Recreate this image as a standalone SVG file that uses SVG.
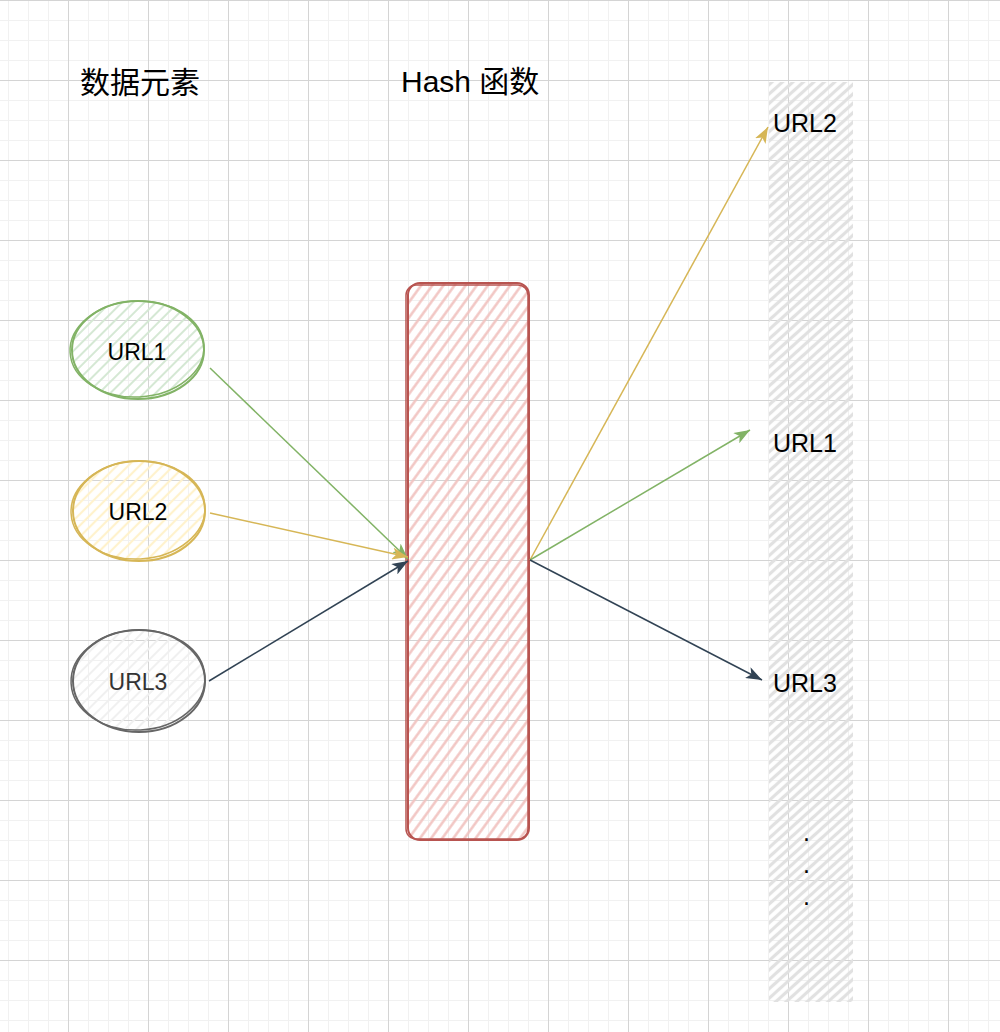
<svg xmlns="http://www.w3.org/2000/svg" width="1000" height="1032" viewBox="0 0 1000 1032">
<style>
.t{font-family:"Liberation Sans","Noto Sans CJK SC",Arial,sans-serif;fill:#000}
.title{font-size:30px}
.lbl{font-size:25px}
.in{font-size:23px;text-anchor:middle}
.edge{fill:none;stroke-width:1.5}
</style>
<defs>
<pattern id="gMinor" x="8" y="0" width="20" height="20" patternUnits="userSpaceOnUse">
<path d="M0.5 0V20M0 0.5H20" stroke="#f1f1f1" stroke-width="1" fill="none"/>
</pattern>
<pattern id="gMajor" x="68" y="0" width="80" height="80" patternUnits="userSpaceOnUse">
<path d="M0.5 0V80M0 0.5H80" stroke="#d4d4d4" stroke-width="1" fill="none"/>
</pattern>
<pattern id="hGreen" width="8" height="8" patternUnits="userSpaceOnUse" patternTransform="rotate(-45)">
<path d="M0 4H8" stroke="#d5e8d4" stroke-width="2"/>
</pattern>
<pattern id="hYellow" width="8" height="8" patternUnits="userSpaceOnUse" patternTransform="rotate(-45)">
<path d="M0 4H8" stroke="#fff2cc" stroke-width="2.2"/>
</pattern>
<pattern id="hGray" width="8" height="8" patternUnits="userSpaceOnUse" patternTransform="rotate(-45)">
<path d="M0 4H8" stroke="#f0f0f0" stroke-width="2"/>
</pattern>
<pattern id="hRed" width="9" height="9" patternUnits="userSpaceOnUse" patternTransform="rotate(-54)">
<path d="M0 4.5H9" stroke="#f1c3c0" stroke-width="2.4"/>
</pattern>
<pattern id="hCol" width="7" height="7" patternUnits="userSpaceOnUse" patternTransform="rotate(-42)">
<path d="M0 3.5H7" stroke="#e1e1e1" stroke-width="3.2"/>
</pattern>
<marker id="aGreen" viewBox="0 0 16 12" refX="16" refY="6" markerWidth="16" markerHeight="12" markerUnits="userSpaceOnUse" orient="auto">
<path d="M0 0L16 6L0 12L4 6Z" fill="#82b366"/>
</marker>
<marker id="aYellow" viewBox="0 0 16 12" refX="16" refY="6" markerWidth="16" markerHeight="12" markerUnits="userSpaceOnUse" orient="auto">
<path d="M0 0L16 6L0 12L4 6Z" fill="#d6b656"/>
</marker>
<marker id="aDark" viewBox="0 0 16 12" refX="16" refY="6" markerWidth="16" markerHeight="12" markerUnits="userSpaceOnUse" orient="auto">
<path d="M0 0L16 6L0 12L4 6Z" fill="#314354"/>
</marker>
</defs>
<g id="background">
<rect width="1000" height="1032" fill="#ffffff"/>
<rect width="1000" height="1032" fill="url(#gMinor)"/>
<rect width="1000" height="1032" fill="url(#gMajor)"/>
</g>
<g id="slots">
<rect x="769" y="82" width="84" height="78" fill="url(#hCol)"/>
<rect x="769" y="160" width="84" height="80" fill="url(#hCol)"/>
<rect x="769" y="240" width="84" height="80" fill="url(#hCol)"/>
<rect x="769" y="320" width="84" height="80" fill="url(#hCol)"/>
<rect x="769" y="400" width="84" height="80" fill="url(#hCol)"/>
<rect x="769" y="480" width="84" height="80" fill="url(#hCol)"/>
<rect x="769" y="560" width="84" height="80" fill="url(#hCol)"/>
<rect x="769" y="640" width="84" height="80" fill="url(#hCol)"/>
<rect x="769" y="720" width="84" height="80" fill="url(#hCol)"/>
<rect x="769" y="800" width="84" height="202" fill="url(#hCol)"/>
</g>
<g id="title-data"><text class="t title" x="80" y="93">数据元素</text></g>
<g id="title-hash"><text class="t title" x="401" y="92">Hash 函数</text></g>
<g id="node-url1">
<ellipse cx="138" cy="350" rx="66" ry="49" fill="url(#hGreen)"/>
<ellipse cx="138" cy="350" rx="66" ry="49" fill="none" stroke="#82b366" stroke-width="2"/>
<ellipse cx="137" cy="349" rx="67" ry="48" fill="none" stroke="#82b366" stroke-width="1.5" transform="rotate(-3 137 349)"/>
<text class="t in" x="137" y="360">URL1</text>
</g>
<g id="node-url2">
<ellipse cx="139" cy="511" rx="66" ry="50" fill="url(#hYellow)"/>
<ellipse cx="139" cy="511" rx="66" ry="50" fill="none" stroke="#d6b656" stroke-width="2"/>
<ellipse cx="138" cy="510" rx="67" ry="49" fill="none" stroke="#d6b656" stroke-width="1.5" transform="rotate(-3 138 510)"/>
<text class="t in" x="138" y="520">URL2</text>
</g>
<g id="node-url3">
<ellipse cx="139" cy="681" rx="66" ry="51" fill="url(#hGray)"/>
<ellipse cx="139" cy="681" rx="66" ry="51" fill="none" stroke="#666666" stroke-width="2"/>
<ellipse cx="138" cy="680" rx="67" ry="50" fill="none" stroke="#666666" stroke-width="1.5" transform="rotate(-3 138 680)"/>
<text class="t in" x="138" y="690" style="fill:#333333">URL3</text>
</g>
<g id="node-hash">
<rect x="408" y="283" width="121" height="557" rx="12" fill="url(#hRed)"/>
<rect x="408" y="283" width="121" height="557" rx="12" fill="none" stroke="#b85450" stroke-width="2"/>
<rect x="406" y="285" width="122" height="554" rx="10" fill="none" stroke="#b85450" stroke-width="1.5"/>
</g>
<g id="connectors">
<path class="edge" d="M210 368L408 559" stroke="#82b366" marker-end="url(#aGreen)"/>
<path class="edge" d="M210 513L408 557" stroke="#d6b656" marker-end="url(#aYellow)"/>
<path class="edge" d="M209 681L408 561" stroke="#314354" marker-end="url(#aDark)"/>
<path class="edge" d="M530 560L768 127" stroke="#d6b656" marker-end="url(#aYellow)"/>
<path class="edge" d="M530 560L750 430" stroke="#82b366" marker-end="url(#aGreen)"/>
<path class="edge" d="M530 560L762 680" stroke="#314354" marker-end="url(#aDark)"/>
</g>
<g id="label-url2"><text class="t lbl" x="773" y="132">URL2</text></g>
<g id="label-url1"><text class="t lbl" x="773" y="452">URL1</text></g>
<g id="label-url3"><text class="t lbl" x="773" y="692">URL3</text></g>
<g id="label-dots">
<text class="t lbl" x="803" y="841">.</text>
<text class="t lbl" x="803" y="873">.</text>
<text class="t lbl" x="803" y="905">.</text>
</g>
</svg>
